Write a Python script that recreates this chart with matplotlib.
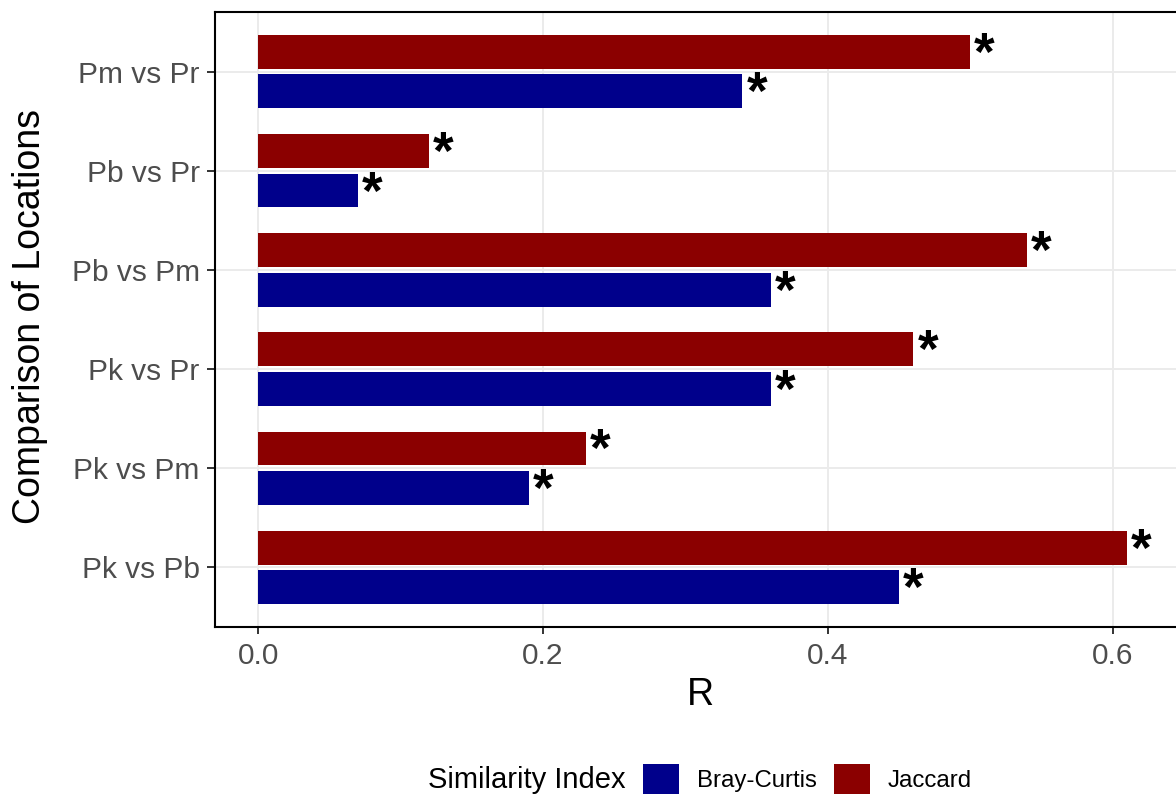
import matplotlib
matplotlib.use("Agg")
import matplotlib.pyplot as plt
from matplotlib.patches import Patch
import numpy as np

# Pairwise location comparisons (bottom to top on the y axis)
comparisons = ["Pk vs Pb", "Pk vs Pm", "Pk vs Pr", "Pb vs Pm", "Pb vs Pr", "Pm vs Pr"]
bray_curtis = [0.45, 0.19, 0.36, 0.36, 0.07, 0.34]
jaccard = [0.61, 0.23, 0.46, 0.54, 0.12, 0.50]
bray_sig = ["*", "*", "*", "*", "*", "*"]
jaccard_sig = ["*", "*", "*", "*", "*", "*"]
x_ticks = [0.0, 0.2, 0.4, 0.6]
x_tick_labels = ["0.0", "0.2", "0.4", "0.6"]

BLUE = "#00008B"
RED = "#8B0000"
FONT = "Liberation Sans"

plt.rcParams["font.family"] = [FONT, "DejaVu Sans"]

W, H = 1176, 794
fig = plt.figure(figsize=(W / 100, H / 100), dpi=100)
ax = fig.add_axes([215 / W, (H - 627) / H, (1185 - 215) / W, (627 - 12) / H])

y = np.arange(len(comparisons))
bar_h = 0.34
off = 0.2

ax.barh(y - off, bray_curtis, height=bar_h, color=BLUE, zorder=2)
ax.barh(y + off, jaccard, height=bar_h, color=RED, zorder=2)

# significance markers just past the end of each bar
for yi, v, s in zip(y - off, bray_curtis, bray_sig):
    ax.annotate(s, (v, yi), xytext=(4, -18), textcoords="offset pixels",
                ha="left", va="baseline", fontsize=38, fontweight="bold",
                color="black", zorder=3)
for yi, v, s in zip(y + off, jaccard, jaccard_sig):
    ax.annotate(s, (v, yi), xytext=(4, -18), textcoords="offset pixels",
                ha="left", va="baseline", fontsize=38, fontweight="bold",
                color="black", zorder=3)

ax.set_xlim(-0.0304, 0.6508)
ax.set_ylim(-0.6, len(comparisons) - 0.4)

ax.set_xticks(x_ticks)
ax.set_xticklabels(x_tick_labels)
ax.set_yticks(y)
ax.set_yticklabels(comparisons)

ax.grid(True, color="#EBEBEB", linewidth=1.4, zorder=0)
ax.set_axisbelow(True)

for sp in ax.spines.values():
    sp.set_color("black")
    sp.set_linewidth(1.5)

ax.tick_params(axis="x", length=5, width=1.4, color="#333333", pad=6,
               labelsize=21.5, labelcolor="#4D4D4D")
ax.tick_params(axis="y", length=6, width=1.4, color="#333333", pad=5,
               labelsize=21.5, labelcolor="#4D4D4D")

# axis titles
fig.text(700 / W, 1 - 705 / H, "R", ha="center", va="baseline",
         fontsize=27, color="black")
fig.text(30 / W, 1 - 317 / H, "Comparison of Locations", rotation=90,
         ha="center", va="center", fontsize=27, color="black")

# legend at the bottom, title placed to the left of the keys
fig.text(428 / W, 1 - 788 / H, "Similarity Index", ha="left", va="baseline",
         fontsize=21, color="black")
handles = [Patch(facecolor=BLUE, edgecolor="none"),
           Patch(facecolor=RED, edgecolor="none")]
fig.legend(handles, ["Bray-Curtis", "Jaccard"], loc="center left",
           bbox_to_anchor=(643 / W, 1 - 779 / H), ncol=2, frameon=False,
           fontsize=17.3, handlelength=1.5, handleheight=1.5,
           handletextpad=0.75, columnspacing=0.7, borderpad=0,
           borderaxespad=0)

fig.savefig("out.png", dpi=100)
